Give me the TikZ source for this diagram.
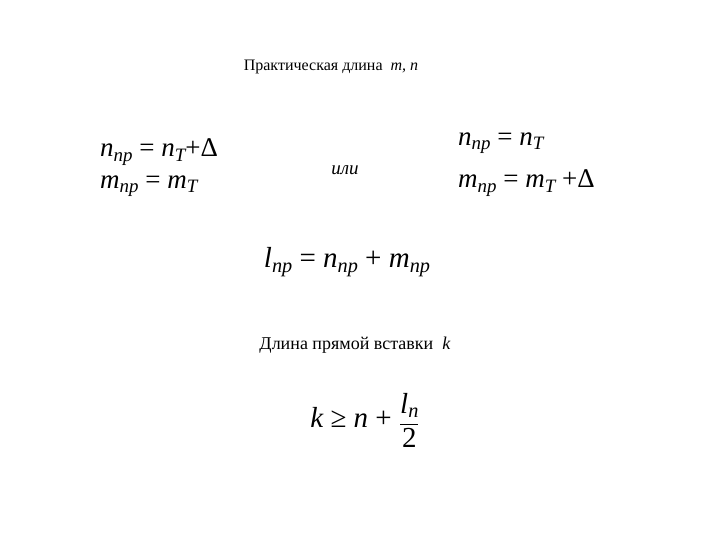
\documentclass[tikz,border=0pt]{standalone}
\usepackage{fontspec}
\setmainfont{Liberation Serif}
\newcommand{\sbx}[1]{\raisebox{-0.35ex}{\scalebox{0.7}{\itshape #1}}}
\begin{document}
\begin{tikzpicture}[x=1pt,y=-1pt,
  txt/.style={inner sep=0pt,font=\fontsize{16}{19}\selectfont},
  big/.style={inner sep=0pt,anchor=west,font=\fontsize{27}{31}\selectfont\itshape},
  eq/.style={inner sep=0pt,font=\fontsize{29}{34}\selectfont\itshape}]
\useasboundingbox (0,0) rectangle (720,540);
\node[txt] (t1) at (331,67) {Практическая длина\ \ \textit{m, n}};
\node[big] (a1) at (100,152) {n\sbx{пр} \upshape= \itshape n\sbx{T}\upshape+Δ};
\node[big] (a2) at (100,186) {m\sbx{пр} \upshape= \itshape m\sbx{T}};
\node[txt,font=\fontsize{19}{22}\selectfont\itshape] (or) at (345,170) {или};
\node[big] (b1) at (458,143) {n\sbx{пр} \upshape= \itshape n\sbx{T}};
\node[big] (b2) at (458,183) {m\sbx{пр} \upshape= \itshape m\sbx{T} \upshape+Δ};
\node[eq] (l) at (347,262) {l\sbx{пр} \upshape= \itshape n\sbx{пр} \upshape+ \itshape m\sbx{пр}};
\node[txt,font=\fontsize{18}{21}\selectfont] (t2) at (355,345) {Длина прямой вставки\ \ \textit{k}};
\node[eq] (k) at (365,420) {k \upshape≥ \itshape n \upshape+ \raisebox{-0.2ex}{$\displaystyle\frac{\textit{l\sbx{n}}}{\mathrm{2}}$}};
\end{tikzpicture}
\end{document}
